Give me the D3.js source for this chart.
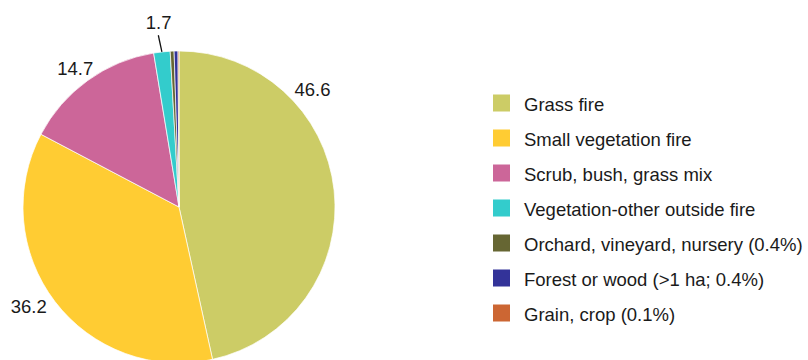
<!DOCTYPE html>
<html>
<head>
<meta charset="utf-8">
<script src="https://cdn.jsdelivr.net/npm/d3@7"></script>
<style>
  html, body { margin: 0; padding: 0; background: #fff; }
  svg { display: block; font-family: "Liberation Sans", Arial, sans-serif; }
</style>
</head>
<body>
<svg id="chart" width="808" height="360"></svg>
<script>
// Vegetation fire types, share of incidents (%)
const categories = [
  "Grass fire",
  "Small vegetation fire",
  "Scrub, bush, grass mix",
  "Vegetation-other outside fire",
  "Orchard, vineyard, nursery (0.4%)",
  "Forest or wood (>1 ha; 0.4%)",
  "Grain, crop (0.1%)"
];
const values = [46.6, 36.2, 14.7, 1.7, 0.4, 0.4, 0.1];
const colors = ["#CCCC66", "#FFCC33", "#CC6699", "#33CCCC", "#666633", "#333399", "#CC6633"];
// Which slices carry a value label
const labelled = [true, true, true, true, false, false, false];

const svg = d3.select("#chart");
const cx = 179, cy = 207, radius = 156;
const fontSize = 18.5;

const pie = d3.pie().sort(null).value(d => d.value);
const arcs = pie(categories.map((c, i) => ({ name: c, value: values[i], color: colors[i], i })));
const arc = d3.arc().innerRadius(0).outerRadius(radius);

const g = svg.append("g").attr("transform", `translate(${cx},${cy})`);

g.selectAll("path.slice")
  .data(arcs)
  .join("path")
  .attr("class", "slice")
  .attr("d", arc)
  .attr("fill", d => d.data.color)
  .attr("stroke", "#fff")
  .attr("stroke-width", 0.7)
  .attr("stroke-linejoin", "round");

// Label placement along each slice: fraction of the slice sweep and distance from centre
const labelPlace = [
  { t: 0.29, r: 178 },
  { t: 0.53, r: 180 },
  { t: 0.48, r: 173 },
  { t: 0.5, r: 186, leader: [radius, 173] }
];

const pt = (a, r) => [r * Math.sin(a), -r * Math.cos(a)];

arcs.forEach((d, i) => {
  if (!labelled[i]) return;
  const p = labelPlace[i];
  const a = d.startAngle + p.t * (d.endAngle - d.startAngle);
  if (p.leader) {
    const [x1, y1] = pt(a, p.leader[0]);
    const [x2, y2] = pt(a - 0.01, p.leader[1]);
    g.append("line")
      .attr("x1", x1).attr("y1", y1)
      .attr("x2", x2).attr("y2", y2)
      .attr("stroke", "#111")
      .attr("stroke-width", 1.3);
  }
  const [x, y] = pt(a, p.r);
  g.append("text")
    .attr("x", x).attr("y", y)
    .attr("text-anchor", "middle")
    .attr("dominant-baseline", "central")
    .attr("font-size", fontSize)
    .attr("fill", "#1a1a1a")
    .text(d3.format(".1f")(d.data.value));
});

// Legend
const legend = svg.append("g").attr("transform", "translate(493,103)");
const rowStep = 35, sw = 17;
const rows = legend.selectAll("g.row")
  .data(arcs)
  .join("g")
  .attr("class", "row")
  .attr("transform", (d, i) => `translate(0,${i * rowStep})`);
rows.append("rect")
  .attr("x", 0).attr("y", -sw / 2)
  .attr("width", sw).attr("height", sw)
  .attr("fill", d => d.data.color);
rows.append("text")
  .attr("x", 31).attr("y", 1)
  .attr("dominant-baseline", "central")
  .attr("font-size", fontSize)
  .attr("fill", "#1a1a1a")
  .text(d => d.data.name);
</script>
</body>
</html>
